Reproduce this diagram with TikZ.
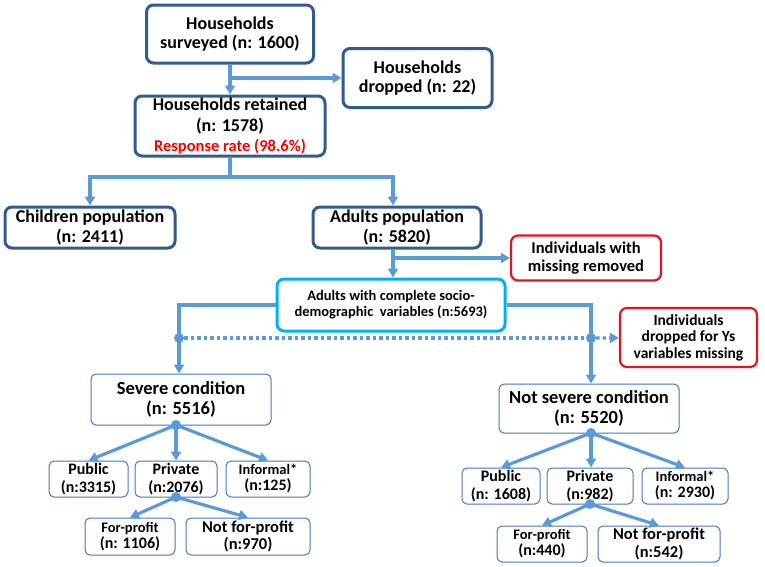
\documentclass[tikz,border=0pt]{standalone}
\usepackage{fontspec}
\setmainfont{Carlito}
\usetikzlibrary{arrows.meta}
\definecolor{boxdark}{RGB}{50,92,140}
\definecolor{boxmid}{RGB}{70,120,180}
\definecolor{linkblue}{RGB}{91,155,213}
\definecolor{cyanline}{RGB}{0,176,240}
\definecolor{redline}{RGB}{232,18,26}
\newcommand{\fbig}{\bfseries\fontsize{18}{19.5}\selectfont}
\newcommand{\fmid}{\bfseries\fontsize{16}{17.5}\selectfont}
\newcommand{\fsml}{\bfseries\fontsize{14.5}{16}\selectfont}
\tikzset{
  darkbox/.style={draw=boxdark, line width=3pt, rounded corners=7pt, fill=white,
    align=center, inner sep=0pt, font=\fbig},
  cyanbox/.style={darkbox, draw=cyanline, font=\fsml},
  redbox/.style={darkbox, draw=redline, line width=2.2pt, font=\fmid},
  thinbox/.style={draw=boxmid, line width=1pt, rounded corners=5pt, fill=white,
    align=center, inner sep=0pt, font=\fmid},
  conn/.style={draw=linkblue, line width=3.2pt, -{Triangle[length=9pt,width=10pt]}},
  plain/.style={draw=linkblue, line width=3.2pt},
  dotconn/.style={conn, dash pattern=on 3.5pt off 3pt},
  joint/.style={fill=linkblue, circle, inner sep=0pt, minimum size=10pt}
}
\begin{document}
\begin{tikzpicture}[x=1pt,y=-1pt]
      \useasboundingbox (0,0) rectangle (765,566);
      % households
      \node[darkbox, minimum width=167pt, minimum height=58pt] (surveyed) at (230,34) {Households\\surveyed (n: 1600)};
      \node[darkbox, minimum width=149pt, minimum height=59pt] (dropped) at (417.5,78) {Households\\dropped (n: 22)};
      \node[darkbox, minimum width=190pt, minimum height=60pt, font=\bfseries\fontsize{18}{20.5}\selectfont] (retained) at (230,126) {Households retained\\(n: 1578)\\{\color{red}\fontsize{16.5}{17}\selectfont Response rate (98.6\%)}};
      \coordinate (split1) at (230,78);
      \coordinate (split2) at (230,177);
      % populations
      \node[darkbox, minimum width=170pt, minimum height=41pt] (children) at (90,227.5) {Children population\\(n: 2411)};
      \node[darkbox, minimum width=168pt, minimum height=41pt] (adults) at (397,227.5) {Adults population\\(n: 5820)};
      \coordinate (split3) at (393,258);
      \node[redbox, minimum width=150pt, minimum height=45pt, font=\bfseries\fontsize{16.5}{18}\selectfont] (missing) at (586,258) {Individuals with\\missing removed};
      \node[cyanbox, minimum width=228pt, minimum height=52pt] (complete) at (391,305) {Adults with complete socio-\\demographic~ variables (n:5693)};
      \node[redbox, minimum width=137pt, minimum height=59pt, font=\bfseries\fontsize{15.5}{16.5}\selectfont] (ysdrop) at (688.5,337.5) {Individuals\\dropped for Ys\\variables missing};
      \node[joint] (jleft) at (179,338) {};
      \node[joint] (jright) at (591,338) {};
      % severe
      \node[thinbox, minimum width=180pt, minimum height=51pt, font=\bfseries\fontsize{18.5}{20}\selectfont] (severe) at (181,399.5) {Severe condition\\(n: 5516)};
      \node[thinbox, minimum width=79pt, minimum height=36pt] (pubS) at (88.5,479) {Public\\(n:3315)};
      \node[thinbox, minimum width=82pt, minimum height=36pt] (privS) at (176,479) {Private\\(n:2076)};
      \node[thinbox, minimum width=84pt, minimum height=36pt, font=\fsml] (infS) at (268,479) {Informal*\\\fmid(n:125)};
      \node[thinbox, minimum width=90pt, minimum height=37pt, font=\fsml] (forS) at (130,536.5) {For-profit\\\fmid(n: 1106)};
      \node[thinbox, minimum width=124pt, minimum height=37pt, font=\bfseries\fontsize{16.5}{17.5}\selectfont] (notS) at (248,536.5) {Not for-profit\\(n:970)};
      \node[joint] (jsev) at (176,425) {};
      \node[joint] (jprivS) at (176,497) {};
      % not severe
      \node[thinbox, minimum width=180pt, minimum height=49pt, font=\bfseries\fontsize{18.5}{20}\selectfont] (notsevere) at (589,408.5) {Not severe condition\\(n: 5520)};
      \node[thinbox, minimum width=78pt, minimum height=36pt] (pubN) at (501,486) {Public\\(n: 1608)};
      \node[thinbox, minimum width=86pt, minimum height=36pt] (privN) at (590,486) {Private\\(n:982)};
      \node[thinbox, minimum width=86pt, minimum height=36pt, font=\fsml] (infN) at (685,486) {Informal*\\\fmid(n: 2930)};
      \node[thinbox, minimum width=90pt, minimum height=36pt, font=\fsml] (forN) at (542,544) {For-profit\\\fmid(n:440)};
      \node[thinbox, minimum width=122pt, minimum height=36pt, font=\bfseries\fontsize{16.5}{17.5}\selectfont] (notN) at (659,544) {Not for-profit\\(n:542)};
      \node[joint] (jnsev) at (591,433) {};
      \node[joint] (jprivN) at (590,504) {};

      \draw[conn] (surveyed) -- (retained);
      \draw[conn] (split1) -- (dropped);
      \draw[plain] (retained) -- (split2);
      \draw[conn] (split2) -| (children);
      \draw[conn] (split2) -| (adults.north -| split3);
      \draw[conn] (adults.south -| split3) -- (complete.north -| split3);
      \draw[conn] (split3) -- (missing);
      \draw[conn] (complete.west) -| (severe.north -| jleft);
      \draw[conn] (complete.east) -| (notsevere.north -| jright);
      \draw[dotconn, -] (jleft) -- (jright);
      \draw[dotconn] (jright) -- (ysdrop);

      \draw[conn] (jsev.center) -- (pubS.north);
      \draw[conn] (jsev.center) -- (privS.north -| jsev);
      \draw[conn] (jsev.center) -- (infS.north);
      \draw[conn] (jprivS.center) -- (forS.north);
      \draw[conn] (jprivS.center) -- (notS.north);
      \draw[conn] (jnsev.center) -- (pubN.north);
      \draw[conn] (jnsev.center) -- (privN.north -| jnsev);
      \draw[conn] (jnsev.center) -- (infN.north);
      \draw[conn] (jprivN.center) -- (forN.north);
      \draw[conn] (jprivN.center) -- (notN.north);
    \end{tikzpicture}
\end{document}
